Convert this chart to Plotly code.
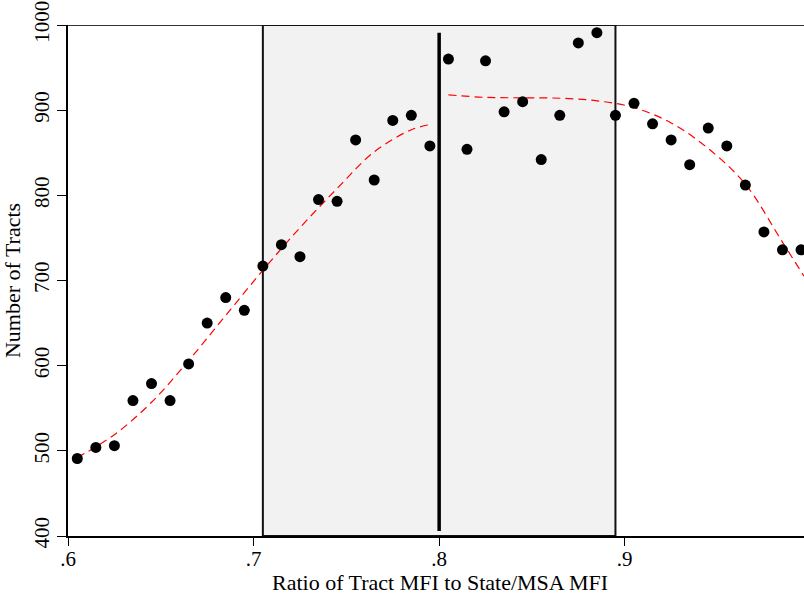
import plotly.graph_objects as go

# Data
bin_x = [0.605, 0.615, 0.625, 0.635, 0.645, 0.655, 0.665, 0.675, 0.685, 0.695,
         0.705, 0.715, 0.725, 0.735, 0.745, 0.755, 0.765, 0.775, 0.785, 0.795,
         0.805, 0.815, 0.825, 0.835, 0.845, 0.855, 0.865, 0.875, 0.885, 0.895,
         0.905, 0.915, 0.925, 0.935, 0.945, 0.955, 0.965, 0.975, 0.985, 0.995]
tracts = [491, 504, 506, 559, 579, 559, 602, 650, 680, 665,
          717, 742, 728, 795, 793, 865, 818, 888, 894, 858,
          960, 854, 958, 898, 910, 842, 894, 979, 991, 894,
          908, 884, 865, 836, 879, 858, 812, 757, 736, 736]

fit_left_x = [0.605, 0.625, 0.645, 0.665, 0.685, 0.705, 0.725, 0.745, 0.765, 0.785, 0.795]
fit_left_y = [492, 519, 557, 606, 659, 712, 762, 808, 851, 877, 883]
fit_right_x = [0.805, 0.825, 0.845, 0.865, 0.885, 0.905, 0.925, 0.945, 0.965, 0.985, 0.9966]
fit_right_y = [918, 915, 914.5, 914, 911, 903, 885, 855, 813, 745, 705]

threshold_x = 0.8
threshold_y = [406, 991]
band_x = [0.705, 0.895]
y_limits = [400, 1000]
x_limits = [0.6, 0.9966]
x_ticks = [0.6, 0.7, 0.8, 0.9]
x_tick_labels = [".6", ".7", ".8", ".9"]
y_ticks = [400, 500, 600, 700, 800, 900, 1000]

FONT = "Liberation Serif"
TICK_SIZE = 21
TITLE_SIZE = 22

fig = go.Figure()

# shaded band
fig.add_shape(type="rect", xref="x", yref="y", x0=band_x[0], x1=band_x[1],
              y0=y_limits[0], y1=y_limits[1], fillcolor="#f2f2f2",
              line=dict(color="#111111", width=2), layer="below")
# top frame line
fig.add_shape(type="line", xref="paper", yref="y", x0=0, x1=1,
              y0=y_limits[1], y1=y_limits[1], line=dict(color="#333333", width=2),
              layer="below")

fig.add_trace(go.Scatter(x=[threshold_x, threshold_x], y=threshold_y, mode="lines",
                         line=dict(color="black", width=3.5), showlegend=False,
                         hoverinfo="skip"))

fig.add_trace(go.Scatter(x=fit_left_x, y=fit_left_y, mode="lines", line_shape="spline",
                         line=dict(color="red", width=1.2, dash="8px,5px"), showlegend=False))
fig.add_trace(go.Scatter(x=fit_right_x, y=fit_right_y, mode="lines", line_shape="spline",
                         line=dict(color="red", width=1.2, dash="8px,5px"), showlegend=False))

fig.add_trace(go.Scatter(x=bin_x, y=tracts, mode="markers",
                         marker=dict(color="black", size=11), showlegend=False,
                         cliponaxis=False))

fig.update_layout(
    width=804, height=596,
    margin=dict(l=68, r=0, t=25, b=60),
    plot_bgcolor="white", paper_bgcolor="white",
    font=dict(family=FONT, size=TICK_SIZE, color="black"),
    showlegend=False,
    xaxis=dict(range=x_limits, tickvals=x_ticks, ticktext=x_tick_labels,
               showgrid=False, zeroline=False, showline=True, linecolor="black",
               linewidth=2, ticks="outside", ticklen=8, tickwidth=1, tickcolor="black",
               ticklabelstandoff=-5,
               tickfont=dict(family=FONT, size=TICK_SIZE)),
    yaxis=dict(range=y_limits, tickvals=y_ticks, showgrid=False, zeroline=False,
               showline=True, linecolor="black", linewidth=1.5, ticks="outside",
               ticklen=9, tickwidth=1, tickcolor="black", tickangle=-90,
               tickfont=dict(family=FONT, size=TICK_SIZE),
               title=dict(text="Number of Tracts", font=dict(family=FONT, size=TITLE_SIZE),
                          standoff=3)),
    annotations=[dict(text="Ratio of Tract MFI to State/MSA MFI", xref="paper", yref="paper",
                      x=(440 - 68) / 736, y=0, yshift=-46, showarrow=False,
                      xanchor="center", yanchor="middle",
                      font=dict(family=FONT, size=TITLE_SIZE, color="black"))],
)

fig.write_html("out.html")
